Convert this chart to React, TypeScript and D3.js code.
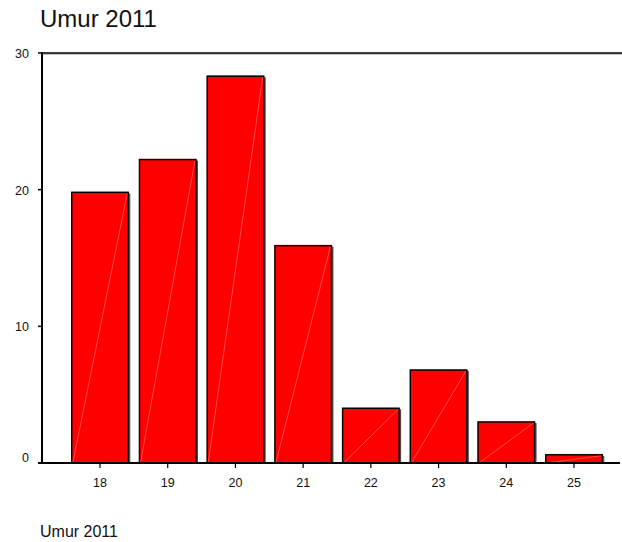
import React from "react";
import * as d3 from "d3";

const categories: string[] = ["18", "19", "20", "21", "22", "23", "24", "25"];
const percents: number[] = [19.8, 22.2, 28.3, 15.9, 4.0, 6.8, 3.0, 0.6];
const yTicks: number[] = [0, 10, 20, 30];
const titleText = "Umur 2011";
const footerText = "Umur 2011";

const W = 622;
const H = 542;
const FONT = "Liberation Sans, Arial, Helvetica, sans-serif";

export default function App() {
  const y = d3.scaleLinear().domain([0, 30]).range([463, 53]);
  const x = d3
    .scaleBand<string>()
    .domain(categories)
    .range([66.15, 607.85])
    .paddingInner(0.165)
    .paddingOuter(0.0825);
  const axisX = 42;
  const y0 = y(0);
  const yTop = y(30);

  return (
    <svg
      width={W}
      height={H}
      style={{ position: "absolute", left: 0, top: 0, background: "#fff" }}
      fontFamily={FONT}
    >
      <rect x={0} y={0} width={W} height={H} fill="#fff" />
      <text x={40} y={27} fontSize={24} fill="#111">
        {titleText}
      </text>

      {/* top frame line */}
      <line x1={axisX} x2={W} y1={yTop + 1} y2={yTop + 1} stroke="#888" strokeWidth={1} />
      <line x1={axisX} x2={W} y1={yTop} y2={yTop} stroke="#000" strokeWidth={1.5} />

      {/* bars */}
      {categories.map((c, i) => {
        const bx = x(c)!;
        const bw = x.bandwidth();
        const by = y(percents[i]);
        const bh = y0 - by;
        return (
          <g key={c}>
            <rect x={bx - 0.5} y={by - 1} width={bw + 1} height={bh + 1} fill="#ff8a8a" />
            <rect x={bx + bw} y={by + 1} width={2} height={bh - 1} fill="#4a4a4a" />
            <rect
              x={bx}
              y={by}
              width={bw}
              height={bh}
              fill="#ff0000"
              stroke="#000"
              strokeWidth={1.4}
            />
            <line
              x1={bx + 1}
              y1={y0}
              x2={bx + bw - 1}
              y2={by + 1}
              stroke="#ff9a9a"
              strokeWidth={0.6}
              opacity={0.8}
            />
          </g>
        );
      })}

      {/* left axis */}
      <line x1={axisX} x2={axisX} y1={yTop - 1} y2={y0} stroke="#000" strokeWidth={2} />
      {yTicks.map((t) => (
        <g key={t}>
          <line x1={axisX - 4} x2={axisX} y1={y(t)} y2={y(t)} stroke="#000" strokeWidth={1.5} />
          <text
            x={29}
            y={y(t)}
            dy={t === 0 ? "-0.05em" : "0.4em"}
            textAnchor="end"
            fontSize={12.5}
            fill="#111"
          >
            {t}
          </text>
        </g>
      ))}

      {/* bottom axis */}
      <line x1={38} x2={620} y1={y0} y2={y0} stroke="#000" strokeWidth={2} />
      {categories.map((c) => {
        const cx = x(c)! + x.bandwidth() / 2;
        return (
          <g key={c}>
            <line x1={cx} x2={cx} y1={y0} y2={y0 + 5} stroke="#000" strokeWidth={1.2} />
            <text x={cx} y={486.5} textAnchor="middle" fontSize={12.5} fill="#111">
              {c}
            </text>
          </g>
        );
      })}

      <text x={40} y={537} fontSize={16} fill="#111">
        {footerText}
      </text>
    </svg>
  );
}
